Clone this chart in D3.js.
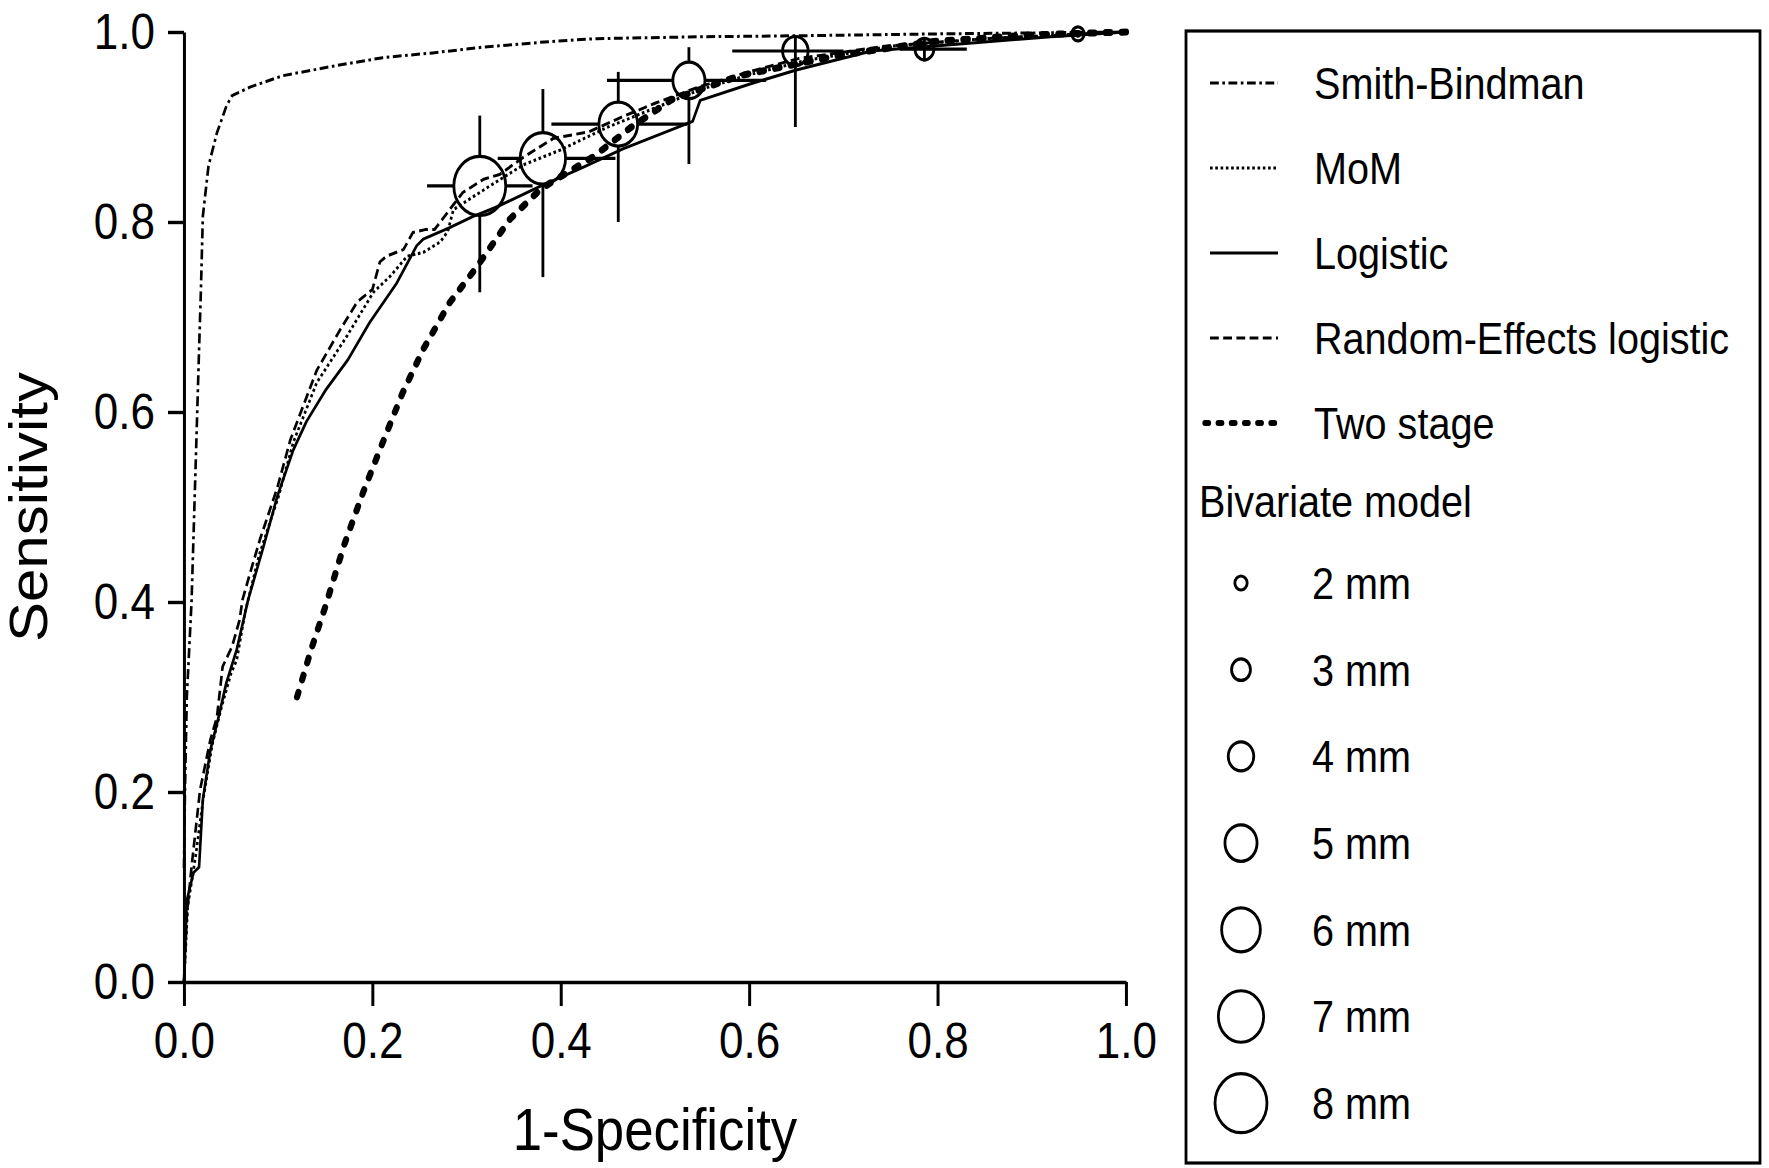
<!DOCTYPE html>
<html>
<head>
<meta charset="utf-8">
<script src="https://cdn.jsdelivr.net/npm/d3@7"></script>
<style>
  body { margin: 0; background: #fff; }
  text { font-family: "Liberation Sans", Arial, sans-serif; fill: #000; }
</style>
</head>
<body>
<div id="chart"></div>
<script>
// ROC curves, points are [1-specificity, sensitivity]
var smithBindman = [[0,0.12],[0.001,0.2],[0.003,0.3],[0.008,0.4],[0.013,0.565],[0.016,0.666],[0.018,0.73],[0.02,0.806],[0.026,0.859],[0.035,0.894],[0.045,0.922],[0.051,0.933],[0.07,0.942],[0.105,0.954],[0.158,0.964],[0.211,0.973],[0.264,0.978],[0.317,0.984],[0.389,0.99],[0.438,0.993],[0.55,0.995],[0.65,0.996],[0.8,0.998],[1,1]];
var mom = [[0,0],[0.004,0.08],[0.012,0.13],[0.02,0.19],[0.03,0.25],[0.04,0.29],[0.05,0.325],[0.056,0.339],[0.065,0.39],[0.08,0.45],[0.1,0.51],[0.116,0.568],[0.141,0.631],[0.173,0.68],[0.201,0.726],[0.219,0.743],[0.237,0.764],[0.254,0.768],[0.272,0.779],[0.28,0.79],[0.286,0.813],[0.32,0.835],[0.36,0.86],[0.4,0.876],[0.45,0.9],[0.5,0.92],[0.55,0.94],[0.6,0.955],[0.66,0.97],[0.75,0.985],[0.85,0.993],[1,1]];
var logistic = [[0,0],[0.003,0.086],[0.01,0.115],[0.016,0.121],[0.02,0.192],[0.028,0.244],[0.036,0.276],[0.045,0.315],[0.056,0.35],[0.068,0.402],[0.084,0.457],[0.099,0.511],[0.116,0.56],[0.13,0.59],[0.151,0.624],[0.174,0.655],[0.197,0.694],[0.226,0.736],[0.247,0.775],[0.254,0.782],[0.282,0.794],[0.307,0.806],[0.33,0.815],[0.379,0.838],[0.42,0.856],[0.466,0.877],[0.54,0.906],[0.548,0.928],[0.6,0.945],[0.65,0.96],[0.73,0.98],[0.83,0.988],[0.92,0.995],[1,1]];
var randomEffects = [[0,0],[0.003,0.07],[0.008,0.121],[0.017,0.202],[0.028,0.255],[0.035,0.279],[0.041,0.332],[0.051,0.353],[0.059,0.381],[0.062,0.402],[0.07,0.43],[0.081,0.467],[0.099,0.52],[0.113,0.571],[0.141,0.644],[0.166,0.687],[0.184,0.716],[0.2,0.729],[0.208,0.758],[0.215,0.764],[0.233,0.771],[0.243,0.789],[0.256,0.792],[0.266,0.792],[0.282,0.813],[0.296,0.831],[0.318,0.845],[0.335,0.85],[0.36,0.868],[0.392,0.888],[0.43,0.895],[0.466,0.911],[0.5,0.925],[0.549,0.943],[0.6,0.958],[0.652,0.972],[0.744,0.985],[0.85,0.993],[1,1]];
var twoStage = [[0.12,0.3],[0.135,0.35],[0.15,0.395],[0.17,0.46],[0.19,0.515],[0.211,0.568],[0.232,0.62],[0.254,0.666],[0.282,0.715],[0.311,0.753],[0.346,0.803],[0.379,0.835],[0.435,0.869],[0.475,0.9],[0.518,0.929],[0.59,0.954],[0.693,0.975],[0.796,0.99],[0.9,0.997],[1,1]];

// bivariate model summary points, one per size
var bivSize = [8, 7, 6, 5, 4, 3, 2];
var bivX    = [0.314, 0.381, 0.461, 0.536, 0.649, 0.786, 0.949];
var bivY    = [0.838, 0.867, 0.903, 0.949, 0.980, 0.982, 0.998];
var bivXLo  = [0.258, 0.333, 0.390, 0.449, 0.582, 0.760, 0.940];
var bivXHi  = [0.370, 0.458, 0.534, 0.618, 0.700, 0.831, 0.960];
var bivYLo  = [0.726, 0.742, 0.800, 0.861, 0.900, 0.969, 0.994];
var bivYHi  = [0.912, 0.940, 0.958, 0.984, 0.996, 0.993, 1.000];

var axisTicks = [0, 0.2, 0.4, 0.6, 0.8, 1.0];
var lineLabels = ["Smith-Bindman", "MoM", "Logistic", "Random-Effects logistic", "Two stage"];
var sizeLabels = [2, 3, 4, 5, 6, 7, 8];

var W = 1769, H = 1168;
var SX = 0.88; // the figure is narrowed horizontally
function fx(v) { return v / SX; }

var series = [
  { data: smithBindman, dash: "10,4,3,4", width: 3, cap: "butt" },
  { data: mom, dash: "3,3", width: 3, cap: "butt" },
  { data: logistic, dash: null, width: 3, cap: "butt" },
  { data: randomEffects, dash: "10,5", width: 3, cap: "butt" },
  { data: twoStage, dash: "5,13", width: 7, cap: "round" }
];

var x = d3.scaleLinear().domain([0, 1]).range([fx(184), fx(1126)]);
var y = d3.scaleLinear().domain([0, 1]).range([982, 32]);
var rad = d3.scaleLinear().domain([2, 8]).range([7, 29.5]);

var svg = d3.select("#chart").append("svg")
  .attr("width", W)
  .attr("height", H);

svg.append("rect").attr("width", W).attr("height", H).attr("fill", "#fff");

var g = svg.append("g").attr("transform", "scale(" + SX + ",1)");

// axes
var yAxis = g.append("g")
  .attr("transform", "translate(" + x(0) + ",0)")
  .call(d3.axisLeft(y).tickValues(axisTicks).tickFormat(d3.format(".1f"))
    .tickSize(fx(16)).tickSizeOuter(0).tickPadding(fx(13)));

var xAxis = g.append("g")
  .attr("transform", "translate(0," + y(0) + ")")
  .call(d3.axisBottom(x).tickValues(axisTicks).tickFormat(d3.format(".1f"))
    .tickSize(24).tickSizeOuter(0).tickPadding(17));

[yAxis, xAxis].forEach(function(a) {
  a.attr("font-size", null).attr("font-family", null);
  a.selectAll("path, line").attr("stroke", "#000").attr("stroke-width", 3.4);
  a.selectAll("text").attr("font-size", 50).attr("fill", "#000");
});

g.append("text")
  .attr("x", fx(655)).attr("y", 1150)
  .attr("text-anchor", "middle").attr("font-size", 60)
  .text("1-Specificity");

g.append("text")
  .attr("transform", "translate(" + fx(47) + "," + y(0.5) + ") rotate(-90)")
  .attr("text-anchor", "middle").attr("font-size", 60)
  .text("Sensitivity");

// bivariate error bars and circles
var pts = bivX.map(function(v, i) { return i; });

g.selectAll(".hbar").data(pts).enter().append("line")
  .attr("x1", function(i) { return x(bivXLo[i]); })
  .attr("x2", function(i) { return x(bivXHi[i]); })
  .attr("y1", function(i) { return y(bivY[i]); })
  .attr("y2", function(i) { return y(bivY[i]); })
  .attr("stroke", "#000").attr("stroke-width", 3.2);

g.selectAll(".vbar").data(pts).enter().append("line")
  .attr("x1", function(i) { return x(bivX[i]); })
  .attr("x2", function(i) { return x(bivX[i]); })
  .attr("y1", function(i) { return y(bivYLo[i]); })
  .attr("y2", function(i) { return y(bivYHi[i]); })
  .attr("stroke", "#000").attr("stroke-width", 3.2);

g.selectAll(".biv").data(pts).enter().append("circle")
  .attr("cx", function(i) { return x(bivX[i]); })
  .attr("cy", function(i) { return y(bivY[i]); })
  .attr("r", function(i) { return rad(bivSize[i]); })
  .attr("fill", function(i) { return bivSize[i] >= 5 ? "#fff" : "none"; })
  .attr("stroke", "#000").attr("stroke-width", 3.2);

// curves
var line = d3.line()
  .x(function(d) { return x(d[0]); })
  .y(function(d) { return y(d[1]); });

series.forEach(function(s) {
  g.append("path")
    .attr("d", line(s.data))
    .attr("fill", "none")
    .attr("stroke", "#000")
    .attr("stroke-width", s.width)
    .attr("stroke-linecap", s.cap)
    .attr("stroke-linejoin", "round")
    .attr("stroke-dasharray", s.dash);
});

// legend
g.append("rect")
  .attr("x", fx(1186)).attr("y", 31)
  .attr("width", fx(1760) - fx(1186)).attr("height", 1132)
  .attr("fill", "none").attr("stroke", "#000").attr("stroke-width", 3.2);

lineLabels.forEach(function(lbl, i) {
  var cy = 83 + 85 * i;
  var s = series[i];
  g.append("line")
    .attr("x1", fx(i === 4 ? 1205 : 1210)).attr("x2", fx(1278))
    .attr("y1", cy).attr("y2", cy)
    .attr("stroke", "#000")
    .attr("stroke-width", i === 4 ? 6 : 3)
    .attr("stroke-linecap", s.cap)
    .attr("stroke-dasharray", i === 4 ? "4,11" : s.dash);
  g.append("text")
    .attr("x", fx(1314)).attr("y", cy + 16)
    .attr("font-size", 45)
    .text(lbl);
});

g.append("text")
  .attr("x", fx(1199)).attr("y", 517)
  .attr("font-size", 45)
  .text("Bivariate model");

sizeLabels.forEach(function(mm, i) {
  var cy = 583 + 86.7 * i;
  g.append("circle")
    .attr("cx", fx(1241)).attr("cy", cy)
    .attr("r", rad(mm))
    .attr("fill", "none").attr("stroke", "#000").attr("stroke-width", 3.2);
  g.append("text")
    .attr("x", fx(1312)).attr("y", cy + 16)
    .attr("font-size", 45)
    .text(mm + " mm");
});
</script>
</body>
</html>
